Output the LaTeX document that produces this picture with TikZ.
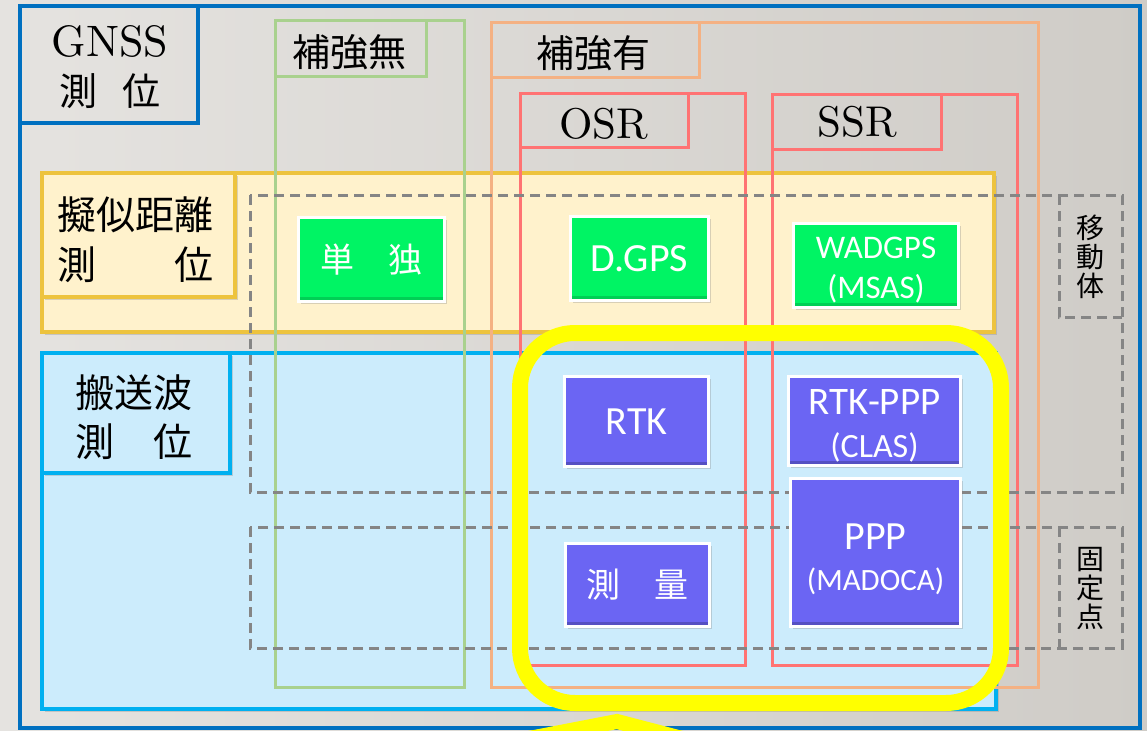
\documentclass[tikz,border=0pt]{standalone}
\usepackage{fontspec}
\newfontfamily\jpf{Noto Sans CJK JP}
\newfontfamily\calf{Carlito}
\newfontfamily\lmten{lmroman10-regular.otf}
\usetikzlibrary{shadows}
\definecolor{bgl}{HTML}{E5E3E0}
\definecolor{bgr}{HTML}{CFCCC7}
\definecolor{gblue}{HTML}{0070C0}
\definecolor{cgreen}{HTML}{A9D18E}
\definecolor{corange}{HTML}{F4B183}
\definecolor{cred}{HTML}{FF7373}
\definecolor{yband}{HTML}{FFF2CC}
\definecolor{yborder}{HTML}{EDC33E}
\definecolor{bband}{HTML}{CCECFC}
\definecolor{bborder}{HTML}{00B0F0}
\definecolor{dgray}{HTML}{858585}
\definecolor{ngreen}{HTML}{00F464}
\definecolor{npurple}{HTML}{6B65F3}
\definecolor{hyellow}{HTML}{FFFF00}
\newcommand\fsz[2]{\fontsize{#1}{#2}\selectfont}
\begin{document}
\begin{tikzpicture}[x=1pt,y=-1pt,
  colbox/.style={line width=3pt},
  bandshadow/.style={drop shadow={shadow xshift=3pt,shadow yshift=-3pt,opacity=0.3}},
  dashbox/.style={draw=dgray,line width=3pt,dash pattern=on 10pt off 6pt},
  lbl/.style={inner sep=0pt,text=black},
  jlbl/.style={lbl,font=\jpf\fsz{38}{40}},
  mlbl/.style={lbl,font=\lmten\fsz{43}{45}},
  vlbl/.style={lbl,align=center,font=\jpf\fsz{28}{29}},
  tech/.style={draw=white,line width=3.5pt,inner sep=0pt,text=white,align=center,
    drop shadow={shadow xshift=2pt,shadow yshift=-2pt,opacity=0.3}},
  gtech/.style={tech,fill=ngreen,path picture={\fill[black,opacity=0.15] (path picture bounding box.south west) rectangle ([yshift=5pt]path picture bounding box.south east);}},
  ptech/.style={tech,fill=npurple,path picture={\fill[black,opacity=0.2] (path picture bounding box.south west) rectangle ([yshift=5pt]path picture bounding box.south east);}},
]
\shade[left color=bgl,right color=bgr] (0,0) rectangle (1147,730);
\useasboundingbox (0,0) rectangle (1147,730);
% outer frame
\draw[draw=gblue,line width=3.5pt] (20,6) rectangle (1140,728);
\draw[draw=gblue,line width=3.5pt] (20,6) rectangle (198,123);
% bands
\draw[fill=yband,draw=yborder,line width=3.5pt,bandshadow] (42,173) rectangle (994,332);
\draw[fill=bband,draw=bborder,line width=3.5pt,bandshadow] (42,353) rectangle (996,709);
\draw[fill=yband,draw=yborder,line width=3.5pt,bandshadow] (42,173) rectangle (235,297);
\draw[fill=bband,draw=bborder,line width=3.5pt,bandshadow] (42,353) rectangle (230,473);
% column boxes
\draw[draw=cgreen,colbox] (275,21) rectangle (464,687);
\draw[draw=cgreen,colbox] (275,21) rectangle (426,77);
\draw[draw=corange,colbox] (491,23) rectangle (1038,687);
\draw[draw=corange,colbox] (491,23) rectangle (699,78);
\draw[draw=cred,colbox] (520,94) rectangle (745,665);
\draw[draw=cred,colbox] (520,94) rectangle (688,148);
\draw[draw=cred,colbox] (772,95) rectangle (1017,665);
\draw[draw=cred,colbox] (772,95) rectangle (941,150);
% dashed regions
\draw[dashbox] (250,195) rectangle (1122,492);
\draw[dashbox] (1059,195) -- (1059,317) -- (1122,317);
\draw[dashbox] (250,527) rectangle (1122,648);
\draw[dashbox] (1059,527) -- (1059,648);
% labels
\node[lbl,font=\lmten\fsz{44}{46}] (gnss) at (110,41.5) {GNSS};
\node[jlbl] (gnssjp) at (110,91.5) {測\hspace{26pt}位};
\node[jlbl] (none) at (349,52) {補強無};
\node[jlbl] (with) at (593,53) {補強有};
\node[mlbl] (osr) at (604,123.5) {OSR};
\node[mlbl] (ssr) at (857,122) {SSR};
\node[jlbl,font=\jpf\fsz{39}{40}] (pr1) at (135,214.5) {擬似距離};
\node[jlbl,font=\jpf\fsz{39}{40}] (pr2) at (135,265) {測　　位};
\node[jlbl,font=\jpf\fsz{39}{40}] (cp1) at (133.5,393) {搬送波};
\node[jlbl,font=\jpf\fsz{39}{40}] (cp2) at (133.5,442) {測　位};
\node[vlbl] (mov) at (1090,256.5) {移\\動\\体};
\node[vlbl] (fix) at (1090,588) {固\\定\\点};
% technique nodes
\node[gtech,minimum width=146pt,minimum height=84pt,font=\jpf\fsz{34}{36}] (single) at (371.5,259.5) {単　独};
\node[gtech,minimum width=138pt,minimum height=84pt,font=\calf\fsz{40}{42}] (dgps) at (639.5,258.5) {D.GPS};
\node[gtech,minimum width=165pt,minimum height=84pt,font=\calf\fsz{33}{40}] (wadgps) at (876,265.5) {\rule{0pt}{30pt}WADGPS\\(MSAS)};
\node[ptech,minimum width=144pt,minimum height=90pt,font=\calf\fsz{40}{42}] (rtk) at (636.5,421.5) {RTK};
\node[ptech,minimum width=144pt,minimum height=83pt,font=\jpf\fsz{34}{36}] (survey) at (637.5,585) {測　量};
\node[ptech,minimum width=172pt,minimum height=89pt,font=\calf\fsz{34}{43}] (rtkppp) at (874.5,421) {{\fsz{39}{43}\rule{0pt}{34pt}RTK-PPP}\\(CLAS)};
\node[ptech,minimum width=170pt,minimum height=148pt,font=\calf\fsz{31}{41}] (ppp) at (875.5,552.5) {{\fsz{40}{41}\rule{0pt}{40pt}PPP}\\(MADOCA)};
% highlight
\draw[hyellow,line width=16pt,rounded corners=55pt] (520,333) rectangle (1001,703);
\draw[hyellow,line width=15pt] (480,748) -- (617,721.5) -- (720,748.4);
\end{tikzpicture}
\end{document}
